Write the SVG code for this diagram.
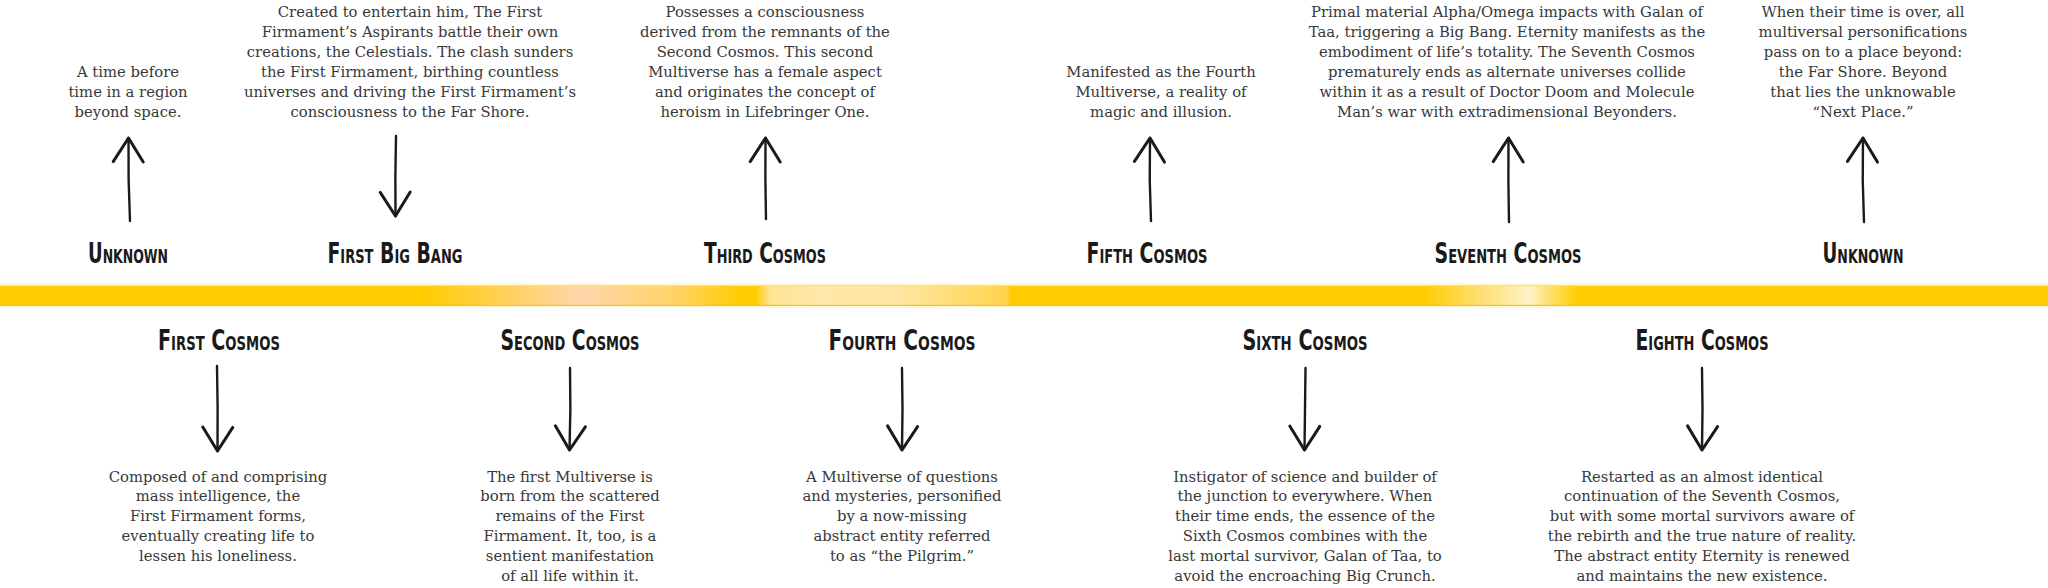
<svg xmlns="http://www.w3.org/2000/svg" width="2048" height="588" viewBox="0 0 2048 588">
<style>
  .b{font-family:"DejaVu Serif","Liberation Serif",serif;font-size:14.8px;fill:#383838;text-anchor:middle}
  .h{font-family:"Liberation Sans Narrow","DejaVu Sans Condensed","Liberation Sans",sans-serif;font-weight:700;font-size:27.5px;font-variant:small-caps;fill:#1a1a1a;text-anchor:middle}
  .arr{fill:none;stroke:#1a1a1a;stroke-width:2.4;stroke-linecap:round;marker-end:url(#head)}
</style>
<defs>
  <marker id="head" markerUnits="userSpaceOnUse" markerWidth="40" markerHeight="40" viewBox="-22 -16 26 32" refX="0" refY="0" orient="auto" overflow="visible">
    <path d="M-19,-12 L0,0 L-19,12" fill="none" stroke="#1a1a1a" stroke-width="2.4" stroke-linecap="round" stroke-linejoin="round"/>
  </marker>
  <linearGradient id="band" x1="0" y1="0" x2="2048" y2="0" gradientUnits="userSpaceOnUse">
    <stop offset="0" stop-color="#FFCC00"/>
    <stop offset="0.206" stop-color="#FFCC00"/>
    <stop offset="0.24" stop-color="#FFD04A"/>
    <stop offset="0.283" stop-color="#FFD6AC"/>
    <stop offset="0.33" stop-color="#FFD466"/>
    <stop offset="0.362" stop-color="#FFCC00"/>
    <stop offset="0.369" stop-color="#FFCC00"/>
    <stop offset="0.376" stop-color="#FFE496"/>
    <stop offset="0.40" stop-color="#FFE8A8"/>
    <stop offset="0.44" stop-color="#FFE6A2"/>
    <stop offset="0.492" stop-color="#FFD44A"/>
    <stop offset="0.4935" stop-color="#FFCC00"/>
    <stop offset="0.695" stop-color="#FFCC00"/>
    <stop offset="0.725" stop-color="#FFE07A"/>
    <stop offset="0.747" stop-color="#FFF3C8"/>
    <stop offset="0.755" stop-color="#FFE27A"/>
    <stop offset="0.771" stop-color="#FFCC00"/>
    <stop offset="1" stop-color="#FFCC00"/>
  </linearGradient>
</defs>
<rect x="0" y="0" width="2048" height="588" fill="#fff"/>
<g id="timeline">
  <rect x="0" y="283" width="2048" height="25" fill="#FFF3B0" opacity="0.6"/>
  <rect x="0" y="285" width="2048" height="21" fill="url(#band)"/>
  <rect x="0" y="285" width="2048" height="1.2" fill="#FFE36A"/>
  <rect x="0" y="304.8" width="2048" height="1.2" fill="#E8C43A"/>
</g>
<g id="connectors">
  <path class="arr" d="M130,221 Q128,180 128.5,138"/>
  <path class="arr" d="M396,136 Q395,176 395.5,216"/>
  <path class="arr" d="M766,219 Q765,178 765.5,138"/>
  <path class="arr" d="M1151,221 Q1149,180 1150,138"/>
  <path class="arr" d="M1509,222 Q1508,180 1508.5,138"/>
  <path class="arr" d="M1864,222 Q1862,180 1863,138"/>
  <path class="arr" d="M217,366 Q218,408 217.5,451"/>
  <path class="arr" d="M570,368 Q571,409 569.5,450"/>
  <path class="arr" d="M902,368 Q903,409 902,450"/>
  <path class="arr" d="M1305.5,368 Q1305,409 1304.5,450"/>
  <path class="arr" d="M1702,368 Q1703,409 1702,450"/>
</g>
<g id="unknown-start">
  <text class="h" x="128" y="263" textLength="80" lengthAdjust="spacingAndGlyphs">Unknown</text>
  <text class="b" x="128"><tspan x="128" y="77">A time before</tspan><tspan x="128" y="97">time in a region</tspan><tspan x="128" y="117">beyond space.</tspan></text>
</g>
<g id="first-big-bang">
  <text class="h" x="395" y="263" textLength="135" lengthAdjust="spacingAndGlyphs">First Big Bang</text>
  <text class="b"><tspan x="410" y="17">Created to entertain him, The First</tspan><tspan x="410" y="37">Firmament’s Aspirants battle their own</tspan><tspan x="410" y="57">creations, the Celestials. The clash sunders</tspan><tspan x="410" y="77">the First Firmament, birthing countless</tspan><tspan x="410" y="97">universes and driving the First Firmament’s</tspan><tspan x="410" y="117">consciousness to the Far Shore.</tspan></text>
</g>
<g id="third-cosmos">
  <text class="h" x="765" y="263" textLength="122" lengthAdjust="spacingAndGlyphs">Third Cosmos</text>
  <text class="b"><tspan x="765" y="17">Possesses a consciousness</tspan><tspan x="765" y="37">derived from the remnants of the</tspan><tspan x="765" y="57">Second Cosmos. This second</tspan><tspan x="765" y="77">Multiverse has a female aspect</tspan><tspan x="765" y="97">and originates the concept of</tspan><tspan x="765" y="117">heroism in Lifebringer One.</tspan></text>
</g>
<g id="fifth-cosmos">
  <text class="h" x="1147" y="263" textLength="121" lengthAdjust="spacingAndGlyphs">Fifth Cosmos</text>
  <text class="b"><tspan x="1161" y="77">Manifested as the Fourth</tspan><tspan x="1161" y="97">Multiverse, a reality of</tspan><tspan x="1161" y="117">magic and illusion.</tspan></text>
</g>
<g id="seventh-cosmos">
  <text class="h" x="1508" y="263" textLength="147" lengthAdjust="spacingAndGlyphs">Seventh Cosmos</text>
  <text class="b"><tspan x="1507" y="17">Primal material Alpha/Omega impacts with Galan of</tspan><tspan x="1507" y="37">Taa, triggering a Big Bang. Eternity manifests as the</tspan><tspan x="1507" y="57">embodiment of life’s totality. The Seventh Cosmos</tspan><tspan x="1507" y="77">prematurely ends as alternate universes collide</tspan><tspan x="1507" y="97">within it as a result of Doctor Doom and Molecule</tspan><tspan x="1507" y="117">Man’s war with extradimensional Beyonders.</tspan></text>
</g>
<g id="unknown-end">
  <text class="h" x="1863" y="263" textLength="81" lengthAdjust="spacingAndGlyphs">Unknown</text>
  <text class="b"><tspan x="1863" y="17">When their time is over, all</tspan><tspan x="1863" y="37">multiversal personifications</tspan><tspan x="1863" y="57">pass on to a place beyond:</tspan><tspan x="1863" y="77">the Far Shore. Beyond</tspan><tspan x="1863" y="97">that lies the unknowable</tspan><tspan x="1863" y="117">“Next Place.”</tspan></text>
</g>
<g id="first-cosmos">
  <text class="h" x="219" y="350" textLength="122" lengthAdjust="spacingAndGlyphs">First Cosmos</text>
  <text class="b"><tspan x="218" y="481.5">Composed of and comprising</tspan><tspan x="218" y="501.3">mass intelligence, the</tspan><tspan x="218" y="521.1">First Firmament forms,</tspan><tspan x="218" y="540.9">eventually creating life to</tspan><tspan x="218" y="560.7">lessen his loneliness.</tspan></text>
</g>
<g id="second-cosmos">
  <text class="h" x="570" y="350" textLength="139" lengthAdjust="spacingAndGlyphs">Second Cosmos</text>
  <text class="b"><tspan x="570" y="481.5">The first Multiverse is</tspan><tspan x="570" y="501.3">born from the scattered</tspan><tspan x="570" y="521.1">remains of the First</tspan><tspan x="570" y="540.9">Firmament. It, too, is a</tspan><tspan x="570" y="560.7">sentient manifestation</tspan><tspan x="570" y="580.5">of all life within it.</tspan></text>
</g>
<g id="fourth-cosmos">
  <text class="h" x="902" y="350" textLength="147" lengthAdjust="spacingAndGlyphs">Fourth Cosmos</text>
  <text class="b"><tspan x="902" y="481.5">A Multiverse of questions</tspan><tspan x="902" y="501.3">and mysteries, personified</tspan><tspan x="902" y="521.1">by a now-missing</tspan><tspan x="902" y="540.9">abstract entity referred</tspan><tspan x="902" y="560.7">to as “the Pilgrim.”</tspan></text>
</g>
<g id="sixth-cosmos">
  <text class="h" x="1305" y="350" textLength="125" lengthAdjust="spacingAndGlyphs">Sixth Cosmos</text>
  <text class="b"><tspan x="1305" y="481.5">Instigator of science and builder of</tspan><tspan x="1305" y="501.3">the junction to everywhere. When</tspan><tspan x="1305" y="521.1">their time ends, the essence of the</tspan><tspan x="1305" y="540.9">Sixth Cosmos combines with the</tspan><tspan x="1305" y="560.7">last mortal survivor, Galan of Taa, to</tspan><tspan x="1305" y="580.5">avoid the encroaching Big Crunch.</tspan></text>
</g>
<g id="eighth-cosmos">
  <text class="h" x="1702" y="350" textLength="133" lengthAdjust="spacingAndGlyphs">Eighth Cosmos</text>
  <text class="b"><tspan x="1702" y="481.5">Restarted as an almost identical</tspan><tspan x="1702" y="501.3">continuation of the Seventh Cosmos,</tspan><tspan x="1702" y="521.1">but with some mortal survivors aware of</tspan><tspan x="1702" y="540.9">the rebirth and the true nature of reality.</tspan><tspan x="1702" y="560.7">The abstract entity Eternity is renewed</tspan><tspan x="1702" y="580.5">and maintains the new existence.</tspan></text>
</g>
</svg>
